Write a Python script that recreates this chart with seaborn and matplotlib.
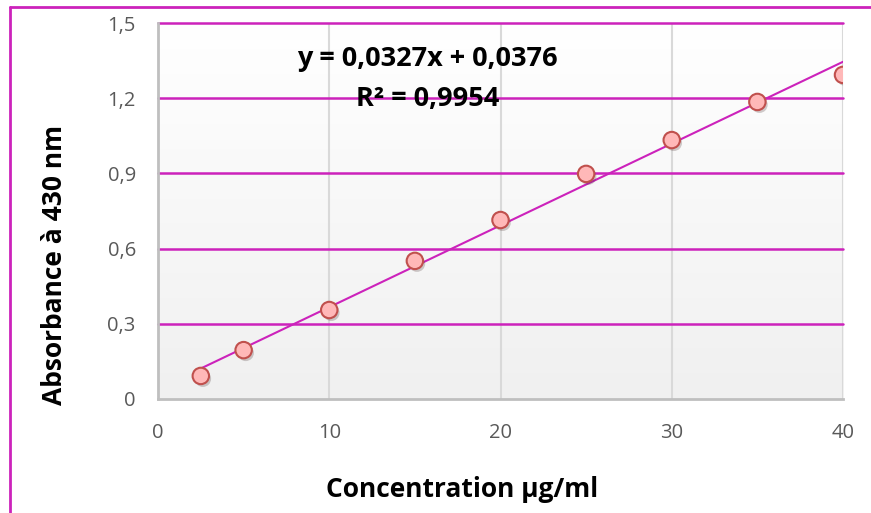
import matplotlib
matplotlib.use("Agg")
import matplotlib.pyplot as plt
import matplotlib.ticker as mticker
from matplotlib.lines import Line2D
import matplotlib.patheffects as pe
import numpy as np
import pandas as pd
import seaborn as sns

# data
concentration = [2.5, 5, 10, 15, 20, 25, 30, 35, 40]
absorbance = [0.092, 0.195, 0.355, 0.551, 0.714, 0.898, 1.033, 1.185, 1.293]
equation_text = "y = 0,0327x + 0,0376\nR² = 0,9954"

MAGENTA = "#cc22bb"
sns.set_theme(style="white")
plt.rcParams["font.family"] = ["Open Sans", "DejaVu Sans"]

df = pd.DataFrame({"conc": concentration, "abs": absorbance})

fig = plt.figure(figsize=(8.71, 5.13), dpi=100)
ax = fig.add_axes([158 / 871, 1 - 399 / 513, 685 / 871, 376 / 513])

# vertical gradient background (white -> light grey)
grad = np.linspace(0, 1, 256).reshape(-1, 1)
ax.imshow(grad, extent=[0, 1, 0, 1], transform=ax.transAxes, aspect="auto",
          cmap=matplotlib.colors.LinearSegmentedColormap.from_list("bg", ["#f0f0f0", "#ffffff"]),
          origin="lower", zorder=0)

sns.regplot(data=df, x="conc", y="abs", ci=None, ax=ax,
            scatter_kws=dict(s=140, color="#ffb8b8", edgecolor="#c0504d", linewidths=1.5,
                             zorder=4, alpha=1,
                             path_effects=[pe.SimplePatchShadow(offset=(1.5, -2), alpha=0.25),
                                           pe.Normal()]),
            line_kws=dict(color=MAGENTA, lw=1.5, zorder=3))

ax.set_xlim(0, 40)
ax.set_ylim(0, 1.5)
ax.set_xticks([0, 10, 20, 30, 40])
ax.set_yticks([0, 0.3, 0.6, 0.9, 1.2, 1.5])
fmt = mticker.FuncFormatter(lambda v, p: f"{v:g}".replace(".", ","))
ax.xaxis.set_major_formatter(fmt)
ax.yaxis.set_major_formatter(fmt)
ax.tick_params(length=0, labelsize=14.5, labelcolor="#595959")
ax.tick_params(axis="x", pad=17)
ax.tick_params(axis="y", pad=16)

for xv in [10, 20, 30, 40]:
    ax.axvline(xv, color="#d9d9d9", lw=1.5, zorder=1)
for yv in [0.3, 0.6, 0.9, 1.2, 1.5]:
    ax.axhline(yv, color=MAGENTA, lw=1.8, zorder=2, clip_on=False)

for s in ["top", "right"]:
    ax.spines[s].set_visible(False)
for s in ["left", "bottom"]:
    ax.spines[s].set_color("#bfbfbf")
    ax.spines[s].set_linewidth(2)

ax.set_xlabel("Concentration µg/ml", fontsize=19, fontweight="bold", color="black")
ax.set_ylabel("Absorbance à 430 nm", fontsize=19, fontweight="bold", color="black")
ax.xaxis.set_label_coords(0.444, -0.205)
ax.yaxis.set_label_coords(-0.131, 0.356)

ax.text(0.393, 0.85, equation_text, transform=ax.transAxes, ha="center", va="center",
        fontsize=19.5, fontweight="bold", color="black", linespacing=1.7, zorder=5)

# chart frame (top and left edges visible)
fig.add_artist(Line2D([10 / 871, 10 / 871], [0, 1 - 7 / 513], transform=fig.transFigure,
                      color=MAGENTA, lw=2))
fig.add_artist(Line2D([10 / 871, 1], [1 - 7 / 513, 1 - 7 / 513], transform=fig.transFigure,
                      color=MAGENTA, lw=2))

fig.savefig("out.png", dpi=100)
